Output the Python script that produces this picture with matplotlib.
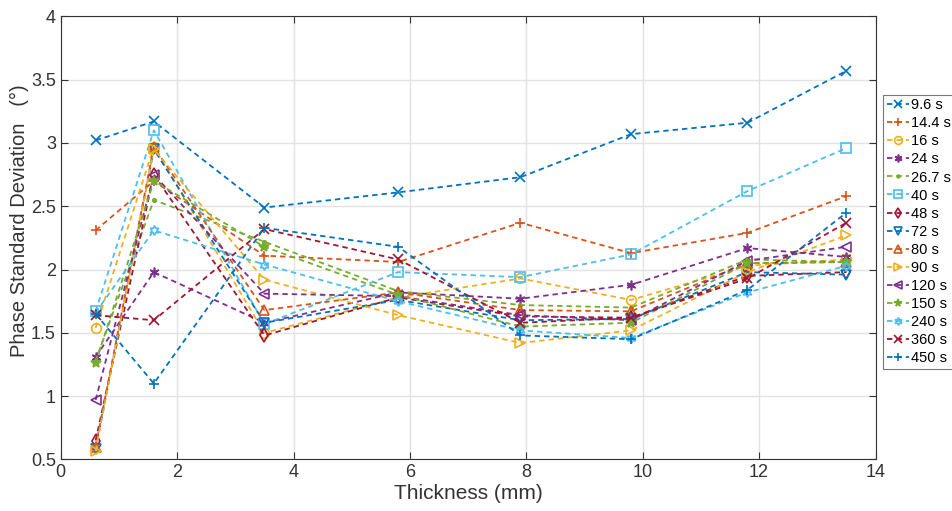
import matplotlib as mpl
import matplotlib.pyplot as plt

mpl.rcParams['font.family'] = ['Liberation Sans', 'DejaVu Sans']
mpl.rcParams['axes.unicode_minus'] = False

# thickness positions (mm)
thickness = [0.6, 1.6, 3.5, 5.8, 7.9, 9.8, 11.8, 13.5]

labels = ['9.6 s', '14.4 s', '16 s', '24 s', '26.7 s', '40 s', '48 s', '72 s',
          '80 s', '90 s', '120 s', '150 s', '240 s', '360 s', '450 s']

s_9_6 = [3.02, 3.17, 2.49, 2.61, 2.73, 3.07, 3.16, 3.57]
s_14_4 = [2.31, 2.70, 2.11, 2.06, 2.37, 2.13, 2.29, 2.58]
s_16 = [1.54, 2.97, 1.50, 1.78, 1.93, 1.76, 2.03, 2.08]
s_24 = [1.31, 1.98, 1.58, 1.82, 1.77, 1.88, 2.17, 2.10]
s_26_7 = [1.28, 2.55, 2.22, 1.83, 1.72, 1.70, 2.08, 2.06]
s_40 = [1.67, 3.10, 1.57, 1.98, 1.94, 2.12, 2.62, 2.96]
s_48 = [0.65, 2.75, 1.48, 1.78, 1.63, 1.62, 1.95, 1.98]
s_72 = [0.58, 2.95, 1.58, 1.76, 1.60, 1.61, 1.98, 1.96]
s_80 = [0.60, 2.97, 1.68, 1.82, 1.68, 1.67, 2.05, 2.06]
s_90 = [0.57, 2.95, 1.92, 1.64, 1.42, 1.52, 1.98, 2.27]
s_120 = [0.97, 2.75, 1.81, 1.79, 1.64, 1.60, 2.07, 2.18]
s_150 = [1.26, 2.70, 2.18, 1.80, 1.55, 1.58, 2.05, 2.06]
s_240 = [1.66, 2.31, 2.04, 1.75, 1.52, 1.46, 1.82, 2.03]
s_360 = [1.64, 1.60, 2.32, 2.08, 1.58, 1.62, 1.93, 2.37]
s_450 = [1.65, 1.10, 2.33, 2.18, 1.48, 1.45, 1.84, 2.45]

series = [s_9_6, s_14_4, s_16, s_24, s_26_7, s_40, s_48, s_72,
          s_80, s_90, s_120, s_150, s_240, s_360, s_450]

# matlab default colour order
cols = ['#0072BD', '#D95319', '#EDB120', '#7E2F8E', '#77AC30', '#4DBEEE', '#A2142F']
markers = ['x', '+', 'o', (6, 2, 0), '.', 's', 'd', 'v',
           '^', '>', '<', '*', (6, 1, 0), 'x', '+']
filled = [False, False, False, False, True, False, False, False,
          False, False, False, True, False, False, False]

fig = plt.figure(figsize=(9.53, 5.11), dpi=100)
ax = fig.add_axes([0.0637, 0.1008, 0.855, 0.8671])

for i, (lab, vals) in enumerate(zip(labels, series)):
    c = cols[i % 7]
    ax.plot(thickness, vals, linestyle=(0, (3, 2.2)), color=c, linewidth=1.3,
            marker=markers[i], markersize=7 if markers[i] != '.' else 5,
            markerfacecolor=c if filled[i] else 'none',
            markeredgecolor=c, markeredgewidth=1.2, label=lab)

ax.set_xlim(0, 14)
ax.set_ylim(0.5, 4)
ax.set_xticks(range(0, 15, 2))
ax.set_yticks([0.5, 1, 1.5, 2, 2.5, 3, 3.5, 4])
ax.set_yticklabels(['0.5', '1', '1.5', '2', '2.5', '3', '3.5', '4'])
ax.grid(True, color='#e3e3e3', linewidth=1)
ax.set_axisbelow(True)
ax.tick_params(labelsize=13, colors='#333333', direction='in', length=5,
               top=True, right=True)
for sp in ax.spines.values():
    sp.set_color('#333333')
    sp.set_linewidth(0.8)

ax.set_xlabel('Thickness (mm)', fontsize=15, color='#333333', labelpad=2)
ax.set_ylabel('Phase Standard Deviation   (°)', fontsize=14.5, color='#333333')
ax.yaxis.set_label_coords(-0.039, 0.54)

leg = fig.legend(loc='upper left', bbox_to_anchor=(0.927, 0.815),
                 bbox_transform=fig.transFigure, fontsize=10.5,
                 handlelength=1.5, handletextpad=0.15, borderpad=0.25,
                 labelspacing=0.28, frameon=True, fancybox=False,
                 borderaxespad=0, markerscale=0.8)
leg.get_frame().set_edgecolor('#555555')
leg.get_frame().set_linewidth(0.8)

fig.savefig('out.png', dpi=100)
